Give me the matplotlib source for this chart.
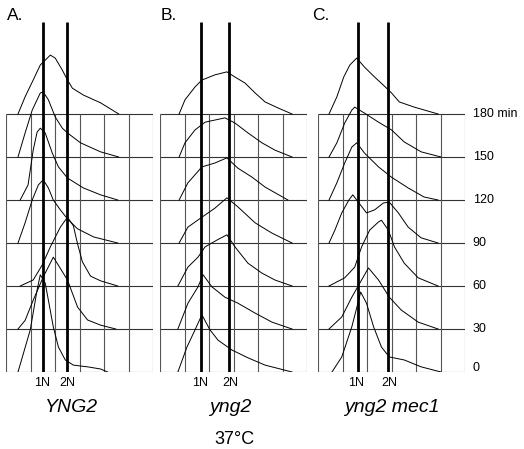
import matplotlib
matplotlib.use("Agg")
import matplotlib.pyplot as plt

plt.rcParams['font.family'] = ['Liberation Sans', 'DejaVu Sans']

# time points (min) from bottom row to top row
times = [0, 30, 60, 90, 120, 150, 180]
time_labels = ['0', '30', '60', '90', '120', '150', '180 min']

# DNA content histograms: x in grid columns (0-6), height in row units
# panel A  YNG2
yng2_wt = [
    ([0.49, 0.99, 1.27, 1.40, 1.60, 1.73, 1.93, 2.14, 2.42, 2.75, 3.33, 3.86, 4.15],
     [0, 0.98, 1.91, 2.26, 2.07, 1.67, 1.05, 0.58, 0.28, 0.16, 0.12, 0.07, 0]),
    ([0.49, 0.78, 1.11, 1.52, 1.93, 2.01, 2.51, 2.92, 3.33, 3.86, 4.48],
     [0, 0.20, 0.67, 1.21, 1.67, 1.60, 1.14, 0.51, 0.21, 0.09, 0]),
    ([0.58, 1.11, 1.48, 1.81, 2.22, 2.51, 2.75, 2.92, 3.12, 3.45, 3.86, 4.56],
     [0, 0.14, 0.49, 0.91, 1.37, 1.60, 1.40, 0.98, 0.56, 0.23, 0.12, 0]),
    ([0.49, 0.78, 1.07, 1.32, 1.52, 1.73, 1.93, 2.22, 2.51, 2.92, 3.58, 4.56],
     [0, 0.47, 1.00, 1.35, 1.47, 1.28, 1.00, 0.77, 0.56, 0.33, 0.14, 0]),
    ([0.58, 0.90, 1.11, 1.27, 1.40, 1.60, 1.89, 2.14, 2.51, 3.16, 3.86, 4.56],
     [0, 0.35, 1.16, 1.58, 1.67, 1.56, 1.09, 0.77, 0.51, 0.28, 0.12, 0]),
    ([0.49, 0.78, 1.07, 1.40, 1.52, 1.73, 2.01, 2.30, 2.51, 3.04, 3.86, 4.60],
     [0, 0.56, 1.09, 1.49, 1.51, 1.33, 0.93, 0.67, 0.56, 0.33, 0.12, 0]),
    ([0.49, 0.78, 1.11, 1.40, 1.81, 2.01, 2.30, 2.51, 2.71, 3.16, 3.86, 4.60],
     [0, 0.40, 0.79, 1.14, 1.37, 1.30, 1.02, 0.79, 0.60, 0.44, 0.26, 0]),
]

# panel B  yng2
yng2 = [
    ([0.73, 1.10, 1.43, 1.71, 2.04, 2.37, 2.94, 3.59, 4.29, 5.39],
     [0, 0.58, 0.98, 1.33, 0.98, 0.74, 0.51, 0.33, 0.16, 0]),
    ([0.73, 1.14, 1.55, 1.76, 2.12, 2.65, 3.18, 3.88, 4.57, 5.39],
     [0, 0.60, 0.98, 1.26, 0.98, 0.74, 0.60, 0.37, 0.16, 0]),
    ([0.73, 1.14, 1.55, 1.84, 2.33, 2.73, 3.06, 3.59, 4.16, 4.69, 5.39],
     [0, 0.44, 0.67, 0.91, 1.07, 1.19, 0.91, 0.53, 0.30, 0.14, 0]),
    ([0.78, 1.14, 1.71, 2.24, 2.73, 3.18, 3.88, 4.57, 5.39],
     [0, 0.37, 0.60, 0.81, 1.05, 0.84, 0.47, 0.23, 0]),
    ([0.78, 1.14, 1.71, 2.24, 2.73, 3.18, 3.76, 4.29, 5.22],
     [0, 0.40, 0.77, 0.86, 0.98, 0.74, 0.53, 0.30, 0]),
    ([0.78, 1.02, 1.43, 1.84, 2.65, 3.06, 3.59, 4.16, 4.69, 5.39],
     [0, 0.33, 0.63, 0.81, 0.91, 0.79, 0.56, 0.33, 0.16, 0]),
    ([0.78, 1.02, 1.43, 1.71, 2.24, 2.73, 3.06, 3.47, 3.88, 4.29, 4.82, 5.39],
     [0, 0.33, 0.63, 0.79, 0.91, 0.98, 0.86, 0.72, 0.49, 0.28, 0.14, 0]),
]

# panel C  yng2 mec1
yng2_mec1 = [
    ([0.57, 0.97, 1.38, 1.66, 1.74, 1.98, 2.27, 2.59, 2.91, 3.52, 4.21, 5.02],
     [0, 0.35, 1.05, 1.67, 1.86, 1.60, 1.05, 0.58, 0.35, 0.28, 0.12, 0]),
    ([0.45, 0.97, 1.38, 1.78, 2.06, 2.47, 2.91, 3.40, 4.09, 4.90],
     [0, 0.28, 0.74, 1.14, 1.42, 1.14, 0.74, 0.44, 0.16, 0]),
    ([0.45, 1.09, 1.50, 1.78, 2.11, 2.47, 2.59, 2.87, 3.12, 3.52, 4.09, 4.90],
     [0, 0.19, 0.44, 0.91, 1.30, 1.49, 1.53, 1.30, 0.91, 0.53, 0.19, 0]),
    ([0.45, 0.69, 0.97, 1.26, 1.42, 1.98, 2.31, 2.67, 2.91, 3.28, 3.68, 4.21, 4.90],
     [0, 0.30, 0.70, 1.00, 1.12, 0.70, 0.77, 0.93, 0.95, 0.70, 0.37, 0.12, 0]),
    ([0.45, 0.77, 1.09, 1.38, 1.58, 1.90, 2.47, 3.00, 3.68, 4.33, 4.90],
     [0, 0.40, 0.86, 1.23, 1.33, 1.09, 0.77, 0.53, 0.28, 0.07, 0]),
    ([0.45, 0.77, 1.09, 1.38, 1.50, 1.90, 2.47, 3.00, 3.52, 4.21, 5.02],
     [0, 0.33, 0.79, 1.09, 1.16, 1.02, 0.81, 0.63, 0.35, 0.12, 0]),
    ([0.45, 0.77, 1.05, 1.30, 1.58, 1.90, 2.31, 2.67, 3.00, 3.32, 3.93, 4.90],
     [0, 0.40, 0.86, 1.14, 1.30, 1.09, 0.86, 0.67, 0.49, 0.28, 0.16, 0]),
]

panel_letters = ['A.', 'B.', 'C.']
strain_names = ['YNG2', 'yng2', 'yng2 mec1']
n1_pos = [1.52, 1.69, 1.62]   # 1N marker, grid columns
n2_pos = [2.47, 2.80, 2.87]   # 2N marker
panel_left_px = [6, 160, 318]
letter_px = [7, 161, 312]
name_x = [2.67, 2.85, 3.0]

W, H = 524, 449
fig = plt.figure(figsize=(W / 100, H / 100), dpi=100)

top_px, base_px, row_px = 22, 372, 43
ymax = (base_px - top_px) / row_px

for i, data in enumerate([yng2_wt, yng2, yng2_mec1]):
    ax = fig.add_axes([panel_left_px[i] / W, 1 - base_px / H,
                       147 / W, (base_px - top_px) / H])
    ax.set_xlim(0, 6)
    ax.set_ylim(0, ymax)
    ax.axis('off')
    # grid box
    ax.hlines(range(7), 0, 6, color='#333333', lw=0.8)
    ax.vlines(range(7), 0, 6, color='#555555', lw=0.8)
    # histograms
    for row, (xs, hs) in enumerate(data):
        ax.plot(xs, [row + h for h in hs], color='black', lw=0.7)
    # 1N / 2N markers
    ax.vlines([n1_pos[i], n2_pos[i]], 0, ymax, color='black', lw=2.0)
    ax.text(n1_pos[i] - 0.05, -0.25, '1N', ha='center', va='center', fontsize=9)
    ax.text(n2_pos[i] + 0.05, -0.25, '2N', ha='center', va='center', fontsize=9)
    ax.text(name_x[i], -0.83, strain_names[i], ha='center', va='center',
            fontsize=14, style='italic')
    fig.text(letter_px[i] / W, 1 - 15 / H, panel_letters[i],
             ha='left', va='center', fontsize=12.5)
    if i == 2:
        for row, lab in enumerate(time_labels):
            ax.text(6.32, row + (0.1 if row == 0 else 0), lab, ha='left', va='center',
                    fontsize=9)

fig.text(234 / W, 1 - 439 / H, '37°C', ha='center', va='center', fontsize=13)

fig.savefig('out.png', dpi=100)
